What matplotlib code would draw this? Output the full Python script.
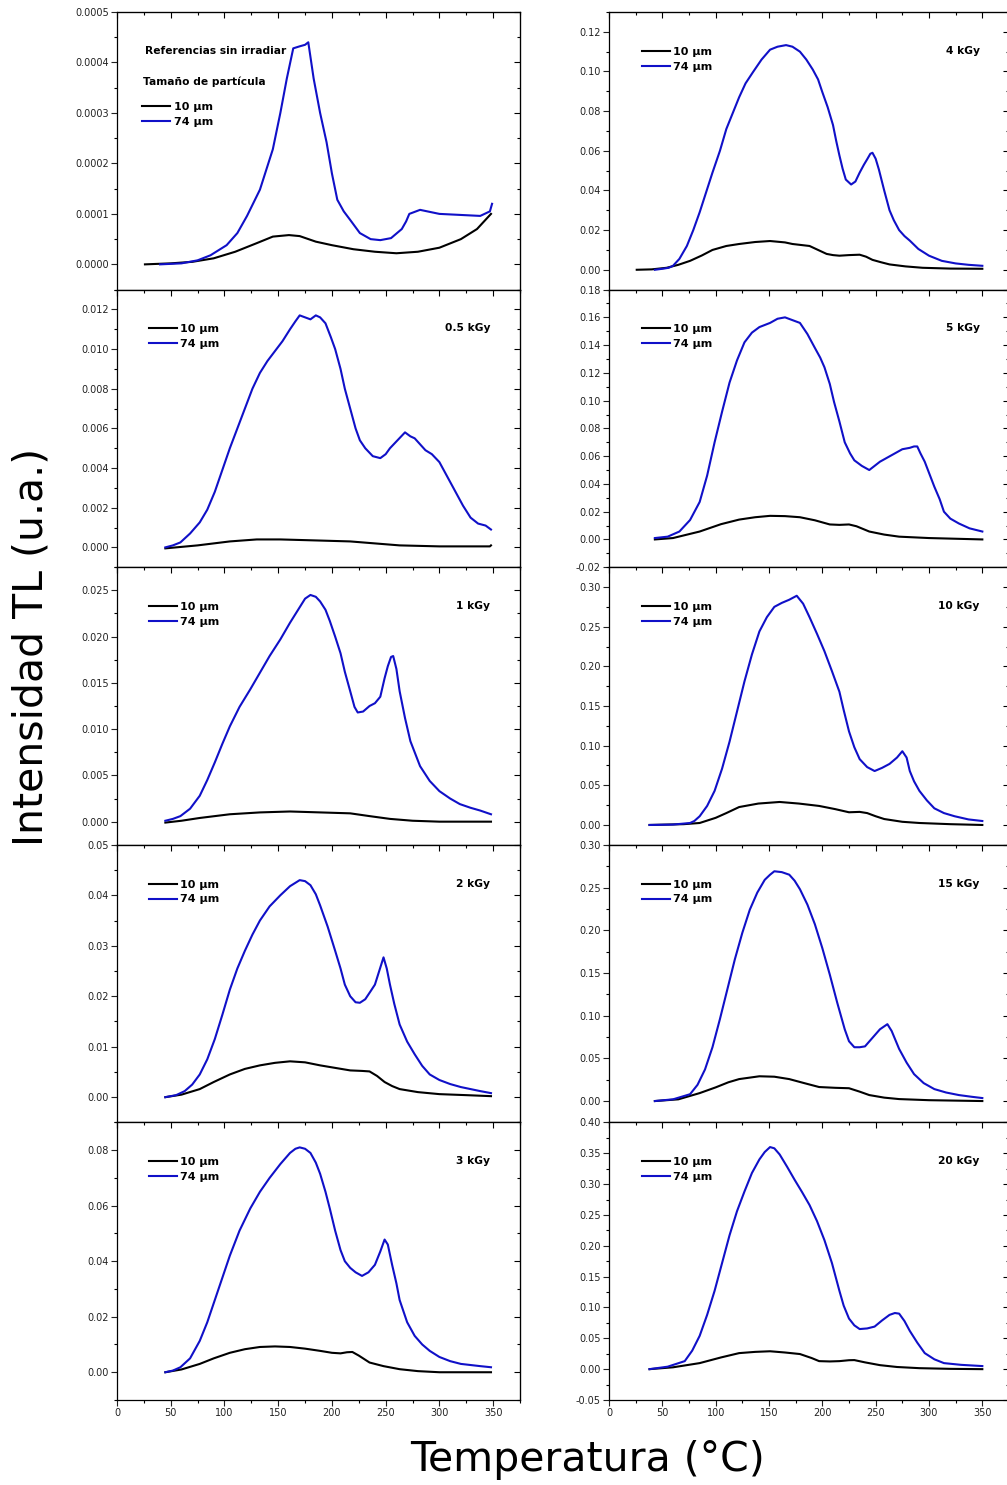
import matplotlib
matplotlib.use("Agg")
import matplotlib.pyplot as plt
from matplotlib.ticker import MultipleLocator, FormatStrFormatter

# ---------------- data ----------------
# Referencias sin irradiar
t_ref_10 = [26, 50, 70, 90, 110, 130, 145, 160, 170, 185, 200, 220, 240, 260, 280, 300, 320, 335, 348]
i_ref_10 = [0.0, 0.000002, 0.000005, 0.000012, 0.000025, 0.000042, 0.000055, 0.000058, 0.000056,
            0.000045, 0.000038, 0.00003, 0.000025, 0.000022, 0.000025, 0.000033, 0.00005, 0.00007, 0.0001]
t_ref_74 = [40, 60, 75, 87, 102, 112, 121, 133, 145, 152, 158, 164, 170, 175, 178, 183, 189, 195, 200,
            205, 211, 217, 226, 236, 245, 255, 265, 269, 272, 282, 300, 319, 338, 347, 349]
i_ref_74 = [0.0, 0.000002, 0.000008, 0.000018, 0.000038, 0.000062, 0.000096, 0.000148, 0.000228,
            0.0003, 0.000368, 0.000428, 0.000432, 0.000435, 0.00044, 0.000368, 0.0003, 0.000242,
            0.00018, 0.000128, 0.000105, 0.000088, 0.000062, 0.00005, 0.000048, 0.000052, 0.00007,
            0.000085, 0.0001, 0.000108, 0.0001, 0.000098, 0.000096, 0.000105, 0.00012]

# 0.5 kGy
t_05_10 = [45, 75, 105, 130, 152, 185, 217, 240, 263, 300, 347, 348]
i_05_10 = [-0.00005, 0.0001, 0.0003, 0.0004, 0.0004, 0.00035, 0.0003, 0.0002, 0.0001, 0.00005,
           0.00005, 0.0001]
t_05_74 = [45, 52, 59, 68, 77, 84, 91, 98, 105, 112, 119, 126, 133, 140, 147, 154, 161, 166, 170, 175,
           180, 185, 189, 194, 199, 203, 208, 212, 217, 222, 226, 231, 238, 245, 250, 254, 261, 268,
           273, 277, 282, 287, 293, 300, 307, 315, 322, 329, 336, 343, 348]
i_05_74 = [0.0, 0.0001, 0.00025, 0.0007, 0.00126, 0.0019, 0.0028, 0.0039, 0.005, 0.006, 0.007, 0.008,
           0.0088, 0.0094, 0.0099, 0.0104, 0.011, 0.0114, 0.0117, 0.0116, 0.0115, 0.0117, 0.0116,
           0.0113, 0.0106, 0.010, 0.009, 0.008, 0.007, 0.006, 0.0054, 0.005, 0.0046, 0.0045, 0.0047,
           0.005, 0.0054, 0.0058, 0.0056, 0.0055, 0.0052, 0.0049, 0.0047, 0.0043, 0.0036, 0.0028,
           0.0021, 0.0015, 0.0012, 0.0011, 0.0009]

# 1 kGy
t_1_10 = [45, 60, 77, 91, 105, 133, 161, 189, 217, 235, 254, 275, 300, 348]
i_1_10 = [-0.0001, 0.0001, 0.0004, 0.0006, 0.0008, 0.001, 0.0011, 0.001, 0.0009, 0.0006, 0.0003,
          0.0001, 0.0, 0.0]
t_1_74 = [45, 52, 59, 68, 77, 84, 91, 98, 105, 114, 124, 133, 142, 152, 161, 168, 175, 180, 185, 189,
          194, 198, 203, 208, 212, 217, 221, 224, 229, 235, 240, 245, 249, 252, 255, 257, 260, 263,
          268, 273, 278, 282, 291, 300, 310, 319, 329, 338, 348]
i_1_74 = [0.0001, 0.0003, 0.0006, 0.0014, 0.0028, 0.0045, 0.0064, 0.0084, 0.0103, 0.0124, 0.0143,
          0.0161, 0.0179, 0.0197, 0.0215, 0.0228, 0.0241, 0.0245, 0.0243, 0.0238, 0.0229, 0.0217,
          0.020, 0.0182, 0.0162, 0.0141, 0.0124, 0.0118, 0.0119, 0.0125, 0.0128, 0.0135, 0.0155,
          0.0168, 0.0178, 0.0179, 0.0165, 0.0141, 0.0112, 0.0087, 0.0072, 0.006, 0.0044, 0.0033,
          0.0025, 0.0019, 0.0015, 0.0012, 0.0008]

# 2 kGy
t_2_10 = [45, 60, 77, 90, 105, 119, 133, 147, 161, 175, 189, 203, 217, 228, 235, 242, 249, 256, 263,
          280, 300, 325, 348]
i_2_10 = [0.0, 0.0005, 0.0016, 0.003, 0.0045, 0.0056, 0.0063, 0.0068, 0.0071, 0.0069, 0.0063, 0.0058,
          0.0053, 0.0052, 0.0051, 0.0042, 0.003, 0.0022, 0.0016, 0.001, 0.0006, 0.0004, 0.0002]
t_2_74 = [45, 55, 63, 70, 77, 84, 91, 98, 105, 112, 119, 126, 133, 142, 152, 161, 170, 175, 180, 185,
          189, 196, 203, 208, 212, 217, 222, 226, 231, 236, 240, 244, 248, 251, 254, 258, 263, 270,
          277, 284, 291, 300, 310, 320, 329, 338, 348]
i_2_74 = [0.0, 0.0004, 0.0012, 0.0025, 0.0045, 0.0075, 0.0115, 0.0163, 0.0213, 0.0255, 0.029, 0.0322,
          0.035, 0.0378, 0.040, 0.0418, 0.043, 0.0428, 0.042, 0.0402, 0.038, 0.0338, 0.029, 0.0255,
          0.0223, 0.020, 0.0188, 0.0187, 0.0194, 0.021, 0.0223, 0.025, 0.0277, 0.0255, 0.0223, 0.0185,
          0.0144, 0.011, 0.0085, 0.0062, 0.0045, 0.0034, 0.0026, 0.002, 0.0016, 0.0012, 0.0008]

# 3 kGy
t_3_10 = [45, 60, 77, 90, 105, 119, 133, 147, 161, 175, 189, 200, 208, 214, 219, 225, 235, 248, 263,
          280, 300, 348]
i_3_10 = [0.0, 0.001, 0.003, 0.005, 0.007, 0.0083, 0.0091, 0.0093, 0.0091, 0.0085, 0.0077, 0.007,
          0.0068, 0.0072, 0.0073, 0.006, 0.0035, 0.0022, 0.0011, 0.0004, 0.0, 0.0]
t_3_74 = [45, 52, 59, 68, 77, 84, 91, 98, 105, 114, 124, 133, 142, 152, 161, 166, 170, 175, 180, 185,
          189, 194, 198, 203, 208, 212, 217, 222, 228, 234, 240, 245, 249, 252, 256, 260, 263, 270,
          277, 284, 291, 300, 310, 320, 329, 338, 348]
i_3_74 = [0.0, 0.0006, 0.0018, 0.005, 0.0113, 0.018, 0.026, 0.034, 0.042, 0.051, 0.059, 0.065, 0.070,
          0.075, 0.079, 0.0805, 0.081, 0.0805, 0.079, 0.0755, 0.0715, 0.065, 0.059, 0.051, 0.044,
          0.040, 0.0376, 0.036, 0.0347, 0.036, 0.0387, 0.0435, 0.0478, 0.046, 0.0387, 0.032, 0.026,
          0.018, 0.0131, 0.010, 0.0077, 0.0055, 0.004, 0.003, 0.0026, 0.0022, 0.0018]

# 4 kGy
t_4_10 = [26, 40, 54, 65, 76, 87, 97, 110, 122, 137, 151, 165, 172, 180, 188, 196, 204, 210, 216, 225,
          235, 241, 247, 255, 263, 278, 294, 320, 350]
i_4_10 = [0.0, 0.0002, 0.001, 0.0025, 0.0045, 0.0072, 0.010, 0.012, 0.013, 0.014, 0.0145, 0.0138,
          0.013, 0.0125, 0.012, 0.010, 0.008, 0.0074, 0.0071, 0.0074, 0.0076, 0.0066, 0.005, 0.0038,
          0.0027, 0.0017, 0.001, 0.0006, 0.0005]
t_4_74 = [43, 50, 56, 60, 66, 73, 79, 85, 91, 97, 104, 110, 116, 122, 128, 135, 143, 151, 158, 166,
          172, 179, 185, 191, 196, 200, 205, 210, 213, 216, 219, 222, 227, 231, 235, 239, 242, 245,
          247, 250, 253, 258, 263, 267, 272, 277, 282, 290, 300, 312, 325, 337, 350]
i_4_74 = [0.0, 0.0005, 0.001, 0.002, 0.0055, 0.012, 0.020, 0.029, 0.039, 0.049, 0.060, 0.071, 0.079,
          0.087, 0.094, 0.0997, 0.106, 0.111, 0.1125, 0.1133, 0.1125, 0.110, 0.106, 0.101, 0.096,
          0.0896, 0.082, 0.073, 0.065, 0.0577, 0.051, 0.0455, 0.043, 0.0445, 0.049, 0.053, 0.0557,
          0.0585, 0.059, 0.056, 0.0506, 0.040, 0.030, 0.025, 0.020, 0.017, 0.0147, 0.0105, 0.0071,
          0.0045, 0.0032, 0.0025, 0.002]

# 5 kGy
t_5_10 = [43, 60, 85, 105, 122, 137, 151, 165, 179, 193, 207, 216, 225, 232, 244, 258, 272, 300, 350]
i_5_10 = [0.0, 0.001, 0.0057, 0.011, 0.0143, 0.016, 0.017, 0.0168, 0.016, 0.0138, 0.0108, 0.0105,
          0.0108, 0.0095, 0.0057, 0.0035, 0.002, 0.001, 0.0]
t_5_74 = [43, 55, 66, 76, 85, 92, 99, 106, 113, 120, 127, 134, 141, 151, 158, 165, 172, 179, 186, 193,
          198, 202, 207, 211, 216, 221, 226, 230, 237, 244, 249, 254, 261, 268, 275, 282, 286, 289,
          292, 296, 300, 305, 310, 314, 320, 328, 338, 350]
i_5_74 = [0.001, 0.002, 0.0057, 0.014, 0.027, 0.046, 0.070, 0.092, 0.113, 0.129, 0.142, 0.149, 0.153,
          0.156, 0.159, 0.160, 0.158, 0.156, 0.148, 0.138, 0.131, 0.124, 0.112, 0.099, 0.085, 0.070,
          0.062, 0.057, 0.053, 0.050, 0.053, 0.056, 0.059, 0.062, 0.065, 0.066, 0.067, 0.067, 0.062,
          0.056, 0.048, 0.038, 0.029, 0.020, 0.015, 0.0115, 0.008, 0.0057]

# 10 kGy
t_10_10 = [38, 70, 85, 100, 110, 122, 140, 160, 178, 197, 212, 225, 235, 242, 250, 258, 275, 291, 320, 350]
i_10_10 = [0.0, 0.001, 0.0025, 0.009, 0.015, 0.0226, 0.027, 0.029, 0.027, 0.024, 0.020, 0.016, 0.0165,
           0.015, 0.011, 0.0075, 0.004, 0.0025, 0.001, 0.0]
t_10_74 = [38, 60, 76, 80, 85, 92, 99, 106, 113, 120, 127, 134, 141, 148, 155, 162, 169, 176, 182, 188,
           195, 202, 209, 216, 220, 225, 230, 235, 242, 249, 256, 263, 270, 275, 279, 282, 286, 291,
           298, 305, 314, 324, 337, 350]
i_10_74 = [0.0, 0.0005, 0.0025, 0.005, 0.011, 0.024, 0.043, 0.071, 0.105, 0.143, 0.181, 0.215, 0.244,
           0.262, 0.275, 0.280, 0.284, 0.289, 0.279, 0.262, 0.241, 0.219, 0.194, 0.168, 0.145, 0.118,
           0.098, 0.083, 0.073, 0.068, 0.072, 0.077, 0.085, 0.093, 0.085, 0.068, 0.055, 0.043, 0.031,
           0.021, 0.015, 0.011, 0.007, 0.005]

# 15 kGy
t_15_10 = [43, 65, 85, 100, 112, 122, 141, 155, 169, 183, 197, 212, 225, 235, 244, 258, 272, 300, 350]
i_15_10 = [0.0, 0.002, 0.0093, 0.016, 0.022, 0.0257, 0.029, 0.0285, 0.0257, 0.021, 0.0164, 0.0155,
           0.015, 0.011, 0.007, 0.004, 0.0023, 0.001, 0.0]
t_15_74 = [43, 60, 76, 83, 90, 97, 104, 111, 118, 125, 132, 139, 146, 151, 155, 162, 169, 174, 179, 186,
           193, 200, 207, 214, 221, 225, 230, 235, 240, 247, 254, 261, 265, 268, 272, 279, 286, 295,
           305, 316, 328, 340, 350]
i_15_74 = [0.0, 0.002, 0.008, 0.019, 0.037, 0.063, 0.096, 0.131, 0.166, 0.197, 0.224, 0.244, 0.259,
           0.265, 0.269, 0.268, 0.265, 0.258, 0.248, 0.230, 0.207, 0.179, 0.148, 0.115, 0.084, 0.070,
           0.063, 0.063, 0.064, 0.074, 0.084, 0.090, 0.082, 0.073, 0.061, 0.045, 0.0315, 0.021, 0.014,
           0.010, 0.007, 0.005, 0.0035]

# 20 kGy
t_20_10 = [38, 60, 85, 105, 122, 137, 151, 165, 179, 190, 197, 207, 216, 225, 230, 240, 254, 270, 291,
           320, 350]
i_20_10 = [0.0, 0.003, 0.0098, 0.019, 0.026, 0.028, 0.029, 0.027, 0.0245, 0.018, 0.013, 0.0125, 0.013,
           0.0145, 0.0147, 0.011, 0.0065, 0.0035, 0.0016, 0.0005, 0.0]
t_20_74 = [38, 55, 71, 78, 85, 92, 99, 106, 113, 120, 127, 134, 141, 146, 151, 155, 160, 167, 174, 181,
           188, 195, 202, 209, 216, 220, 225, 230, 235, 242, 249, 256, 263, 268, 272, 277, 282, 289,
           296, 305, 314, 330, 350]
i_20_74 = [0.0, 0.004, 0.013, 0.030, 0.054, 0.088, 0.127, 0.172, 0.217, 0.256, 0.288, 0.318, 0.340,
           0.352, 0.360, 0.358, 0.348, 0.328, 0.307, 0.287, 0.266, 0.240, 0.209, 0.172, 0.127, 0.103,
           0.082, 0.071, 0.065, 0.066, 0.069, 0.079, 0.088, 0.091, 0.090, 0.078, 0.062, 0.043, 0.026,
           0.016, 0.0098, 0.007, 0.005]

dose_labels = ["", "0.5 kGy", "1 kGy", "2 kGy", "3 kGy", "4 kGy", "5 kGy", "10 kGy", "15 kGy", "20 kGy"]
legend_labels = ["10 µm", "74 µm"]
x_ticks = [0, 50, 100, 150, 200, 250, 300, 350]

# ---------------- layout / styles ----------------
W, H = 1007, 1485
fig = plt.figure(figsize=(W / 100, H / 100), dpi=100)

BLUE = "#1010c8"
row_top, row_h = 12, 277.6
col_x = [(117, 403), (609, 400)]

panels = [
    # (col, row, t10, i10, t74, i74, ylim, major, fmt, dose)
    (0, 0, t_ref_10, i_ref_10, t_ref_74, i_ref_74, (-0.00005, 0.0005), 0.0001, "%.4f", dose_labels[0]),
    (0, 1, t_05_10, i_05_10, t_05_74, i_05_74, (-0.001, 0.013), 0.002, "%.3f", dose_labels[1]),
    (0, 2, t_1_10, i_1_10, t_1_74, i_1_74, (-0.0025, 0.0275), 0.005, "%.3f", dose_labels[2]),
    (0, 3, t_2_10, i_2_10, t_2_74, i_2_74, (-0.005, 0.05), 0.01, "%.2f", dose_labels[3]),
    (0, 4, t_3_10, i_3_10, t_3_74, i_3_74, (-0.01, 0.09), 0.02, "%.2f", dose_labels[4]),
    (1, 0, t_4_10, i_4_10, t_4_74, i_4_74, (-0.01, 0.13), 0.02, "%.2f", dose_labels[5]),
    (1, 1, t_5_10, i_5_10, t_5_74, i_5_74, (-0.02, 0.18), 0.02, "%.2f", dose_labels[6]),
    (1, 2, t_10_10, i_10_10, t_10_74, i_10_74, (-0.025, 0.325), 0.05, "%.2f", dose_labels[7]),
    (1, 3, t_15_10, i_15_10, t_15_74, i_15_74, (-0.025, 0.30), 0.05, "%.2f", dose_labels[8]),
    (1, 4, t_20_10, i_20_10, t_20_74, i_20_74, (-0.05, 0.40), 0.05, "%.2f", dose_labels[9]),
]

for col, row, t10, i10, t74, i74, ylim, major, fmt, dose in panels:
    x0, w = col_x[col]
    top = row_top + row * row_h
    ax = fig.add_axes([x0 / W, 1 - (top + row_h) / H, w / W, row_h / H])
    l1, = ax.plot(t10, i10, color="black", lw=1.5)
    l2, = ax.plot(t74, i74, color=BLUE, lw=1.5)
    ax.set_xlim(0, 375)
    ax.set_ylim(*ylim)
    ax.xaxis.set_major_locator(MultipleLocator(50))
    ax.xaxis.set_minor_locator(MultipleLocator(25))
    ax.yaxis.set_major_locator(MultipleLocator(major))
    ax.yaxis.set_minor_locator(MultipleLocator(major / 2))
    ax.yaxis.set_major_formatter(FormatStrFormatter(fmt))
    ax.tick_params(axis="both", which="major", direction="out", length=4, width=0.8,
                   labelsize=7, colors="#222222", pad=2)
    ax.tick_params(axis="both", which="minor", direction="out", length=2.5, width=0.8)
    if row == 4:
        ax.set_xticks(x_ticks)
    else:
        ax.tick_params(axis="x", labelbottom=False)
    for s in ax.spines.values():
        s.set_linewidth(0.9)
    # inward ticks on top and right
    sx = ax.secondary_xaxis("top")
    sx.xaxis.set_major_locator(MultipleLocator(50))
    sx.xaxis.set_minor_locator(MultipleLocator(25))
    sx.tick_params(which="major", direction="in", length=4, width=0.8, labeltop=False)
    sx.tick_params(which="minor", direction="in", length=2.5, width=0.8)
    sy = ax.secondary_yaxis("right")
    sy.yaxis.set_major_locator(MultipleLocator(major))
    sy.yaxis.set_minor_locator(MultipleLocator(major / 2))
    sy.tick_params(which="major", direction="in", length=4, width=0.8, labelright=False)
    sy.tick_params(which="minor", direction="in", length=2.5, width=0.8)

    if col == 0 and row == 0:
        ax.text(0.069, 0.860, "Referencias sin irradiar", transform=ax.transAxes,
                fontsize=7.7, fontweight="bold", va="center", ha="left")
        ax.text(0.065, 0.748, "Tamaño de partícula", transform=ax.transAxes,
                fontsize=7.7, fontweight="bold", va="center", ha="left")
        anchor = (0.063, 0.675)
    else:
        anchor = (0.080 if col == 0 else 0.083, 0.875)
    ax.legend([l1, l2], legend_labels, loc="upper left", bbox_to_anchor=anchor,
              frameon=False, borderpad=0, borderaxespad=0, handlelength=2.5,
              handletextpad=0.3, labelspacing=0.45,
              prop={"weight": "bold", "size": 8})
    if dose:
        ax.text(0.926, 0.860, dose, transform=ax.transAxes, fontsize=7.7,
                fontweight="bold", ha="right", va="center")

fig.text(32 / W, 1 - 647 / H, "Intensidad TL (u.a.)", rotation=90, fontsize=29.5,
         ha="center", va="center")
fig.text(587 / W, 1 - 1460 / H, "Temperatura (°C)", fontsize=29.5, ha="center", va="center")

fig.savefig("out.png", dpi=100)
